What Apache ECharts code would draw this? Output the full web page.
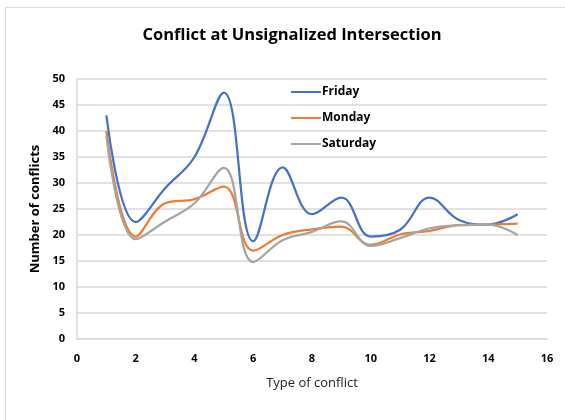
<!DOCTYPE html>
<html><head><meta charset="utf-8">
<script src="https://cdn.jsdelivr.net/npm/echarts@6/dist/echarts.min.js"></script>
<style>html,body{margin:0;padding:0;background:#fff}#c{width:565px;height:420px}</style>
</head><body><div id="c"></div>
<script>
var types = [1,2,3,4,5,6,7,8,9,10,11,12,13,14,15];
var friday = [43,22.5,29,35,47.4,18.8,33,24,27.2,19.7,21,27.2,22.9,22,24];
var monday = [40,19.7,26.1,26.9,29.3,17,20,21.1,21.6,18.1,20.1,20.8,21.9,22,22.2];
var saturday = [39,19.2,22.6,26.1,32.9,14.8,19,20.6,22.6,17.9,19.4,21.3,21.9,22,20];
var seriesNames = ['Friday','Monday','Saturday'];
var colors = ['#4472C4','#ED7D31','#A5A5A5'];
function pairs(v){return types.map(function(t,i){return [t,v[i]];});}
var all=[friday,monday,saturday];
var chart = echarts.init(document.getElementById('c'));
chart.setOption({
  animation:false,
  graphic:[{type:'rect',shape:{x:5.5,y:7.5,width:600,height:450},style:{fill:'none',stroke:'#d9d9d9',lineWidth:1}}],
  title:{text:'Conflict at Unsignalized Intersection',left:287,top:22,textAlign:'center',
    textStyle:{fontFamily:'Open Sans',fontWeight:'bold',fontSize:16.5,color:'#000'}},
  legend:{orient:'vertical',left:286,top:81,itemGap:14,itemWidth:30,itemHeight:16,
    icon:'path://M0,7 L30,7 L30,9 L0,9 Z',
    textStyle:{fontFamily:'Open Sans',fontWeight:'bold',fontSize:12,color:'#000',padding:[0,0,0,-4]},
    data:seriesNames},
  grid:{left:77,right:18,top:79,bottom:81},
  xAxis:{type:'value',min:0,max:16,interval:2,
    name:'Type of conflict',nameLocation:'middle',nameGap:38,
    nameTextStyle:{fontFamily:'Open Sans',fontSize:13,color:'#222'},
    axisLine:{show:true,lineStyle:{color:'#d9d9d9',width:1.5}},
    axisTick:{show:false},splitLine:{show:false},
    axisLabel:{fontFamily:'Open Sans',fontWeight:'bold',fontSize:11,color:'#000',margin:14}},
  yAxis:{type:'value',min:0,max:50,interval:5,
    name:'Number of conflicts',nameLocation:'middle',nameGap:30,
    nameTextStyle:{fontFamily:'Open Sans',fontWeight:'bold',fontSize:13,color:'#000'},
    axisLine:{show:true,lineStyle:{color:'#d9d9d9',width:1.5}},
    axisTick:{show:false},
    splitLine:{lineStyle:{color:'#d9d9d9',width:1.5}},
    axisLabel:{fontFamily:'Open Sans',fontWeight:'bold',fontSize:11,color:'#000',margin:12}},
  series:seriesNames.map(function(n,i){return {name:n,type:'line',data:pairs(all[i]),smooth:0.4,
    showSymbol:false,color:colors[i],lineStyle:{width:2.25,color:colors[i]}};})
});
</script></body></html>
